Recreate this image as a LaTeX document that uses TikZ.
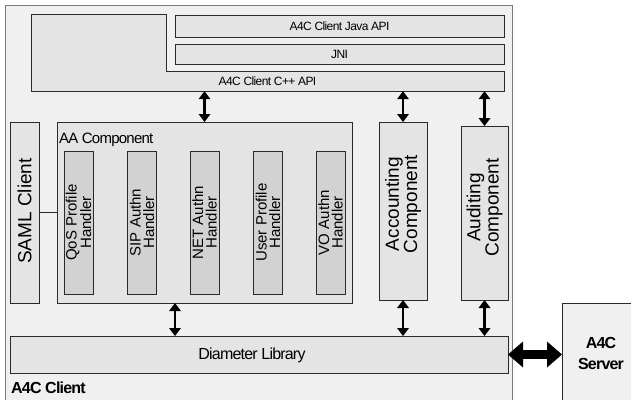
\documentclass[tikz,border=0pt]{standalone}
\usepackage{fontspec}
\setmainfont{Liberation Sans}
\newfontfamily\cond[LetterSpace=-5]{Liberation Sans}
\usetikzlibrary{arrows.meta}
\definecolor{outerfill}{HTML}{F0F0F0}
\definecolor{boxfill}{HTML}{E4E4E4}
\definecolor{handfill}{HTML}{D2D2D2}
\definecolor{edge}{HTML}{2A2A2A}
\definecolor{outeredge}{HTML}{7A7A7A}
\begin{document}
\begin{tikzpicture}[x=1pt,y=-1pt,
  box/.style={draw=edge, line width=0.8pt, fill=boxfill, inner sep=0pt, outer sep=0pt},
  handler/.style={box, fill=handfill, minimum width=29pt, minimum height=143pt},
  vtext/.style={rotate=90, align=center, inner sep=0pt},
  tip/.style={Triangle[length=8pt,width=12pt,line width=0pt]},
  dbl/.style={line width=2.5pt, {Triangle[length=8pt,width=12pt,line width=0pt]}-{Triangle[length=8pt,width=12pt,line width=0pt]}},
  big/.style={line width=9pt, {Triangle[length=15pt,width=26pt,line width=0pt]}-{Triangle[length=15pt,width=26pt,line width=0pt]}},
  hlabel/.style={inner sep=0pt, font=\fontsize{12}{14}\cond},
  ]
\fill[white] (0,0) rectangle (631,399);
\useasboundingbox (0,0) rectangle (631,399);

% outer client box
\node[draw=outeredge, line width=1pt, fill=outerfill, minimum width=507pt, minimum height=400pt, inner sep=0pt] (client) at (258.5,205) {};
\node[anchor=base west, inner sep=0pt, font=\fontsize{16}{18}\cond\bfseries] (clientlbl) at (11,393) {A4C Client};

% server
\node[box, fill=outerfill, minimum width=100pt, minimum height=120pt] (server) at (612,363) {};
\node[align=center, inner sep=0pt, font=\fontsize{16}{21}\cond\bfseries] (servertxt) at (601,353) {A4C\\Server};

% top API stack
\path[draw=edge, line width=0.8pt, fill=boxfill] (31,14) -- (166,14) -- (166,71) -- (504,71) -- (504,91) -- (31,91) -- cycle;
\node[hlabel, minimum width=473pt, minimum height=20pt] (cpp) at (267.5,81) {A4C Client C++ API};
\node[box, minimum width=329pt, minimum height=22pt, font=\fontsize{12}{14}\cond] (java) at (339.5,26) {A4C Client Java API};
\node[box, minimum width=329pt, minimum height=20pt, font=\fontsize{12}{14}\cond] (jni) at (339.5,54) {JNI};

% SAML client
\node[box, minimum width=29pt, minimum height=181pt] (saml) at (24.5,212.5) {};
\node[vtext, font=\fontsize{19}{20}\selectfont] (samltxt) at (24.5,211) {SAML Client};

% AA component
\node[box, minimum width=295pt, minimum height=181pt] (aa) at (204.5,212.5) {};
\node[anchor=base west, inner sep=0pt, font=\fontsize{15}{17}\cond] (aalbl) at (59,143) {AA Component};

\node[handler] (qos) at (78.5,222.5) {};
\node[handler] (sip) at (142,222.5) {};
\node[handler] (net) at (204.5,222.5) {};
\node[handler] (user) at (268,222.5) {};
\node[handler] (vo) at (330.5,222.5) {};
\node[vtext, font=\fontsize{15}{13.5}\selectfont] (qost) at (qos) {QoS Profile\\Handler};
\node[vtext, font=\fontsize{15}{13.5}\selectfont] (sipt) at (sip) {SIP Authn\\Handler};
\node[vtext, font=\fontsize{15}{13.5}\selectfont] (nett) at (net) {NET Authn\\Handler};
\node[vtext, font=\fontsize{15}{13.5}\selectfont] (usert) at (user) {User Profile\\Handler};
\node[vtext, font=\fontsize{15}{13.5}\selectfont] (vot) at (vo) {VO Authn\\Handler};

% accounting / auditing
\node[box, minimum width=48pt, minimum height=178pt] (acc) at (403,211) {};
\node[vtext, font=\fontsize{19}{17}\selectfont] (acct) at (403,204) {Accounting\\Component};
\node[box, minimum width=47pt, minimum height=174pt] (aud) at (484.5,213) {};
\node[vtext, font=\fontsize{19}{17}\selectfont] (audt) at (484.5,207.5) {Auditing\\Component};

% diameter library
\node[box, minimum width=498pt, minimum height=37pt] (diam) at (259,354.5) {};
\node[inner sep=0pt, font=\fontsize{16}{18}\cond] (diamt) at (252,355) {Diameter Library};

% connectors
\draw[edge, line width=1.5pt] (saml.east) -- (aa.west);
\draw[dbl] (cpp.south -| aa.north) -- (aa.north);
\draw[dbl] (cpp.south -| acc.north) -- (acc.north);
\draw[dbl] (cpp.south -| aud.north) -- (aud.north);
\coordinate (d1) at (175,0);
\draw[dbl] (aa.south -| d1) -- (diam.north -| d1);
\draw[dbl] (acc.south) -- (diam.north -| acc.south);
\draw[dbl] (aud.south) -- (diam.north -| aud.south);
\draw[big] (diam.east) -- (server.west |- diam.east);
\end{tikzpicture}
\end{document}
